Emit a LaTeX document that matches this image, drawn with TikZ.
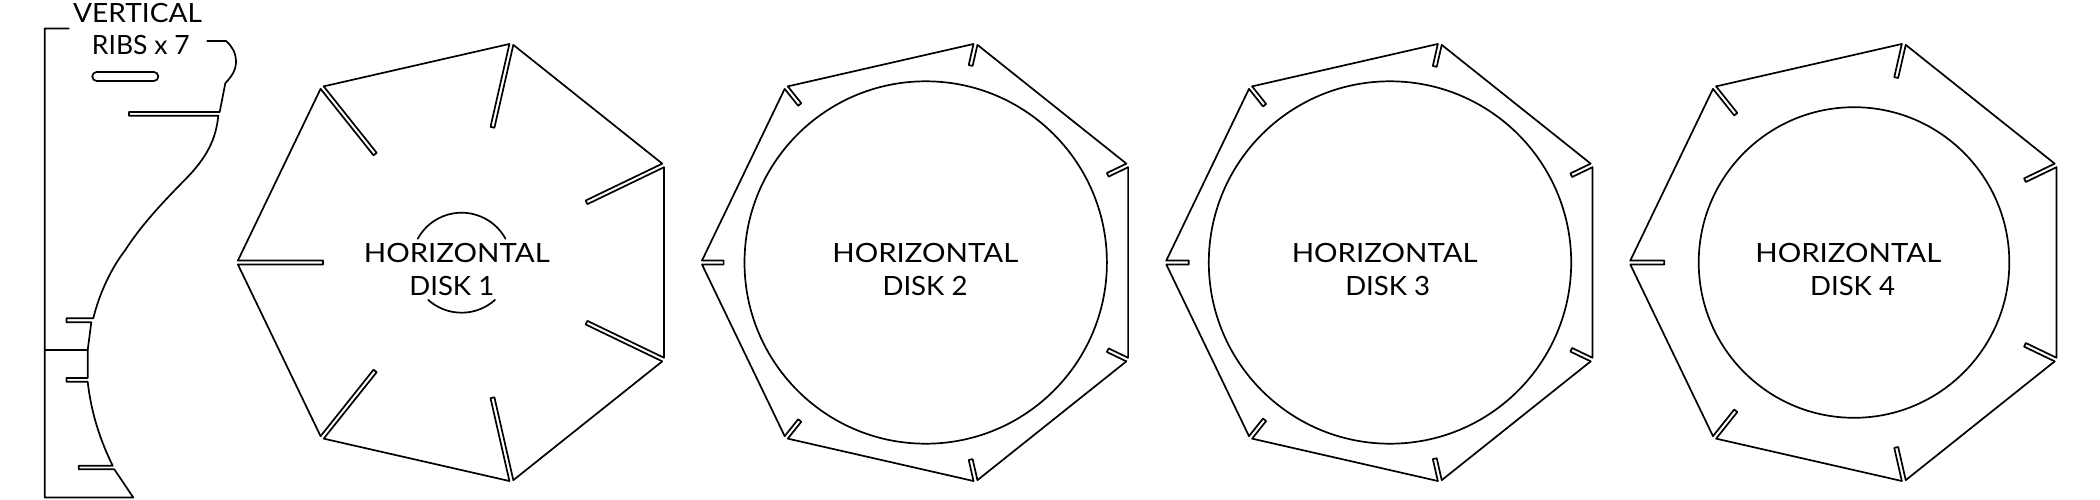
\documentclass[tikz,border=0pt]{standalone}
\usepackage{graphicx}
\usepackage{fontspec}
\setmainfont{Lato}
\tikzset{
  part/.style={draw=black,line width=1.7pt,line cap=round,line join=round},
  lbl/.style={anchor=base,inner sep=0pt,font=\fontsize{26.5}{30}\selectfont,text=black}
}
% #1 cx, #2 slot length, #3 inner circle radius (0 = none)
\newcommand{\heptadisk}[3]{%
  \begin{scope}[shift={(#1,262.5)}]
    \foreach \k in {0,...,6}{%
      \pgfmathsetmacro{\ang}{\k*360/7}%
      \begin{scope}[rotate=\ang]
        \draw[part] (-223.7,-2) -- (-223.7+#2,-2) -- (-223.7+#2,2) -- (-223.7,2)
          -- ([rotate=360/7]-223.7,-2);
      \end{scope}
    }%
    \ifdim #3pt>0pt \draw[part] (0,0) circle[radius=#3]; \fi
  \end{scope}%
}
\begin{document}
\begin{tikzpicture}[x=1pt,y=-1pt]
\useasboundingbox (0,0) rectangle (2100,500);
% vertical rib
\draw[part] (68.7,28.5) -- (44.7,28.5) -- (44.7,497.5) -- (133.3,497.5) -- (114.3,469.3)
  -- (78.7,469.3) -- (78.7,465.7) -- (112.7,465.7)
  .. controls (100,440) and (91,412) .. (87.7,381.7)
  -- (66.5,381.7) -- (66.5,378) -- (87.7,378) -- (87.7,350) -- (91.3,322.3)
  -- (66.5,322.3) -- (66.5,318.3) -- (93.3,318.3)
  .. controls (99,295) and (110,270) .. (125.3,250)
  .. controls (142,224) and (165,200) .. (186.7,178)
  .. controls (206,158) and (216,140) .. (218.3,115.7)
  -- (129,115.7) -- (129,112) -- (219.7,112) -- (225.3,83.3)
  .. controls (232,76) and (236,70) .. (236,61.7)
  .. controls (236,53) and (232,46) .. (226,41)
  -- (207.3,41);
\draw[part] (44.7,350) -- (87.7,350);
\draw[part,rounded corners=4.4pt] (92.3,72) rectangle (158.3,81);
\node[lbl] (t1) at (137.5,22.7) {\scalebox{1.06}[1]{VERTICAL}};
\node[lbl] (t2) at (140.8,55) {RIBS x 7};
% disks
\heptadisk{461.6}{85}{0}
\draw[part] (461.6,262.7) ++(-151.4:50) arc[start angle=-151.4,end angle=-28.6,radius=50];
\draw[part] (461.6,262.7) ++(132:50) arc[start angle=132,end angle=48,radius=50];
\heptadisk{925.7}{21.6}{181.2}
\heptadisk{1390}{22.5}{181.2}
\heptadisk{1854}{34}{155.3}
\node[lbl] (d1a) at (456.8,262.3) {\scalebox{1.108}[1]{HORIZONTAL}};
\node[lbl] (d1b) at (451.8,295) {\scalebox{1.04}[1]{DISK 1}};
\node[lbl] (d2a) at (925.3,262.3) {\scalebox{1.108}[1]{HORIZONTAL}};
\node[lbl] (d2b) at (925,295) {\scalebox{1.04}[1]{DISK 2}};
\node[lbl] (d3a) at (1384.7,262.3) {\scalebox{1.108}[1]{HORIZONTAL}};
\node[lbl] (d3b) at (1387.7,295) {\scalebox{1.04}[1]{DISK 3}};
\node[lbl] (d4a) at (1848.3,262.3) {\scalebox{1.108}[1]{HORIZONTAL}};
\node[lbl] (d4b) at (1852.5,295) {\scalebox{1.04}[1]{DISK 4}};
\end{tikzpicture}
\end{document}
